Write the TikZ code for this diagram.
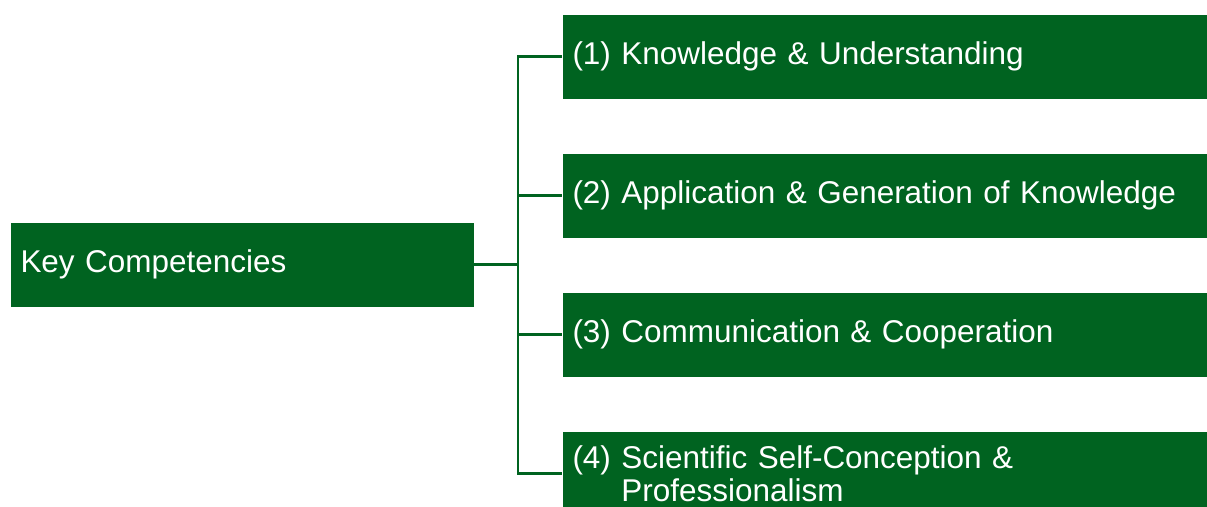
\documentclass[tikz,border=0pt]{standalone}
\usepackage{fontspec}
\setmainfont{Liberation Sans}
\definecolor{kcgreen}{RGB}{0,99,32}

\tikzset{every picture/.style={line width=0.75pt}}
\tikzset{
  kcbox/.style={fill=kcgreen, text=white, anchor=north west, inner xsep=7.5pt, inner ysep=0pt,
    minimum height=63pt, align=left, font=\fontsize{23.6}{24.75}\selectfont},
  kcline/.style={draw=kcgreen, line width=1.6pt}
}

\begin{document}
\begin{tikzpicture}[x=0.75pt,y=0.75pt,yscale=-1,xscale=1]
    \useasboundingbox (0,0) rectangle (1207,507);

    % Text Node
    \node [kcbox, text width=332.25pt] (key) at (10,222) {Key Competencies};
    % Text Node
    \node [kcbox, text width=468.75pt] (comp1) at (562,14) {(1) Knowledge \& Understanding};
    % Text Node
    \node [kcbox, text width=468.75pt] (comp2) at (562,153) {(2) Application \& Generation of Knowledge};
    % Text Node
    \node [kcbox, text width=468.75pt] (comp3) at (562,292) {(3) Communication \& Cooperation};
    % Text Node
    \node [kcbox, text width=468.75pt] (comp4) at (562,431) {(4) Scientific Self-Conception \&\\\hphantom{(4) }Professionalism};

    \coordinate (trunk) at (518,0);
    %Straight Lines
    \draw [kcline] (key.east) -- (key.east -| trunk) ;
    %Straight Lines
    \draw [kcline] (comp1.west) -- (comp1.west -| trunk) -- (comp4.west -| trunk) -- (comp4.west) ;
    %Straight Lines
    \draw [kcline] (comp2.west -| trunk) -- (comp2.west) ;
    %Straight Lines
    \draw [kcline] (comp3.west -| trunk) -- (comp3.west) ;

\end{tikzpicture}
\end{document}
